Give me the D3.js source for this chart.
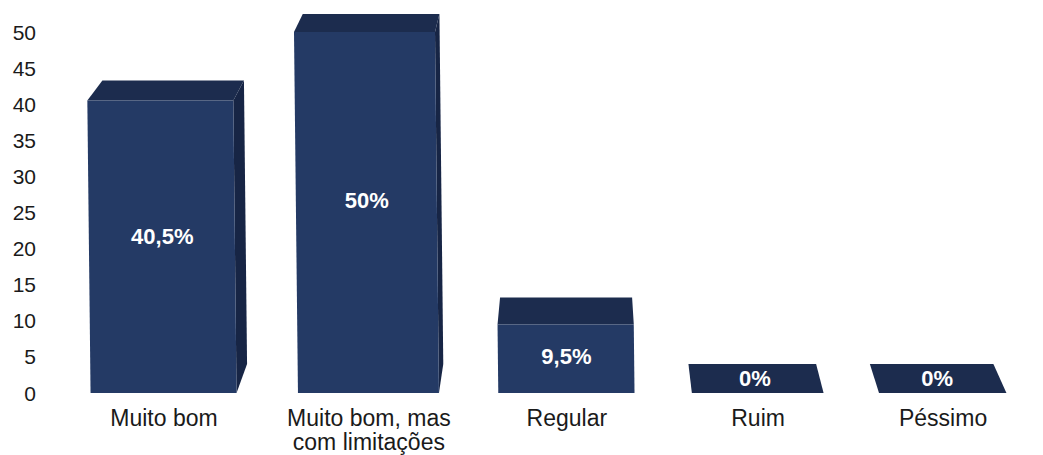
<!DOCTYPE html>
<html>
<head>
<meta charset="utf-8">
<script src="https://cdn.jsdelivr.net/npm/d3@7"></script>
<style>
  html, body { margin: 0; padding: 0; background: #ffffff; }
  svg { display: block; }
</style>
</head>
<body>
<svg id="chart" width="1043" height="455"></svg>
<script>
// Avaliação: distribuição das respostas (%)
const categories = ["Muito bom", "Muito bom, mas com limitações", "Regular", "Ruim", "Péssimo"];
const values = [40.5, 50, 9.5, 0, 0];
const yTicks = [0, 5, 10, 15, 20, 25, 30, 35, 40, 45, 50];

const W = 1043, H = 455;
const svg = d3.select("#chart");
const FONT = "Liberation Sans, Arial, sans-serif";

const ptBR = d3.formatLocale({ decimal: ",", thousands: ".", grouping: [3], currency: ["R$", ""] });
const fmtPct = v => ptBR.format(".1~f")(v) + "%";

// Vertical value scale
const y = d3.scaleLinear().domain([0, 50]).range([393, 32]);

// Flat category positions, then a mild horizontal perspective (right side recedes)
const xFlat = d3.scalePoint().domain(categories).range([0, 834]);
const xOrigin = 164, persp = 0.0000845;
const proj = p => xOrigin + p / (1 + persp * p);

// Slight lean of the vertical edges and extrusion toward a vanishing point
const shear = 0.011;
const vp = [580, -557];
const depthScale = 0.9694;
const halfW = 73;

const front = (p, yy) => [proj(p) + (yy - y(0)) * shear, yy];
const back = pt => [vp[0] + (pt[0] - vp[0]) * depthScale, vp[1] + (pt[1] - vp[1]) * depthScale];

const colFront = "#243a65", colTop = "#1c2c4e", colSide = "#172545";
const line = d3.line();

// Y axis tick labels
svg.append("g").selectAll("text")
  .data(yTicks)
  .join("text")
  .attr("x", 36)
  .attr("y", d => y(d))
  .attr("dy", "0.36em")
  .attr("text-anchor", "end")
  .attr("font-family", FONT)
  .attr("font-size", 21)
  .attr("fill", "#1a1a1a")
  .text(d => d);

// 3D bars
const bars = svg.append("g");
categories.forEach((c, i) => {
  const p = xFlat(c);
  const v = values[i];
  const yt = y(v), yb = y(0);
  const fTL = front(p - halfW, yt), fTR = front(p + halfW, yt);
  const fBL = front(p - halfW, yb), fBR = front(p + halfW, yb);
  const bTL = back(fTL), bTR = back(fTR), bBL = back(fBL), bBR = back(fBR);
  const g = bars.append("g");

  if (bTR[0] > fTR[0] + 0.5) {
    g.append("path").attr("d", line([fTR, bTR, bBR, fBR]) + "Z").attr("fill", colSide);
  }
  if (bTL[0] < fTL[0] - 0.5) {
    g.append("path").attr("d", line([fTL, bTL, bBL, fBL]) + "Z").attr("fill", colSide);
  }
  g.append("path").attr("d", line([fTL, bTL, bTR, fTR]) + "Z").attr("fill", colTop);
  if (v > 0) {
    g.append("path").attr("d", line([fTL, fTR, fBR, fBL]) + "Z").attr("fill", colFront);
  }

  let lx, ly;
  if (v > 0) {
    ly = y(v * 0.535);
    lx = proj(p) + (ly - yb) * shear;
  } else {
    ly = (fTL[1] + bTL[1]) / 2;
    lx = (fTL[0] + fTR[0] + bTL[0] + bTR[0]) / 4;
  }
  g.append("text")
    .attr("x", lx)
    .attr("y", ly)
    .attr("dy", "0.36em")
    .attr("text-anchor", "middle")
    .attr("font-family", FONT)
    .attr("font-weight", "bold")
    .attr("font-size", 22)
    .attr("fill", "#ffffff")
    .text(fmtPct(v));
});

// Category labels, wrapped to fit under each bar
const catG = svg.append("g")
  .attr("font-family", FONT)
  .attr("font-size", 23)
  .attr("fill", "#1a1a1a");
categories.forEach(c => {
  const cx = proj(xFlat(c));
  const t = catG.append("text")
    .attr("x", cx)
    .attr("y", 426)
    .attr("text-anchor", "middle");
  const words = c.split(" ");
  let lineWords = [];
  let tspan = t.append("tspan").attr("x", cx).attr("dy", 0);
  words.forEach(w => {
    lineWords.push(w);
    tspan.text(lineWords.join(" "));
    if (tspan.node().getComputedTextLength() > 190 && lineWords.length > 1) {
      lineWords.pop();
      tspan.text(lineWords.join(" "));
      lineWords = [w];
      tspan = t.append("tspan").attr("x", cx).attr("dy", "1.03em").text(w);
    }
  });
});
</script>
</body>
</html>
